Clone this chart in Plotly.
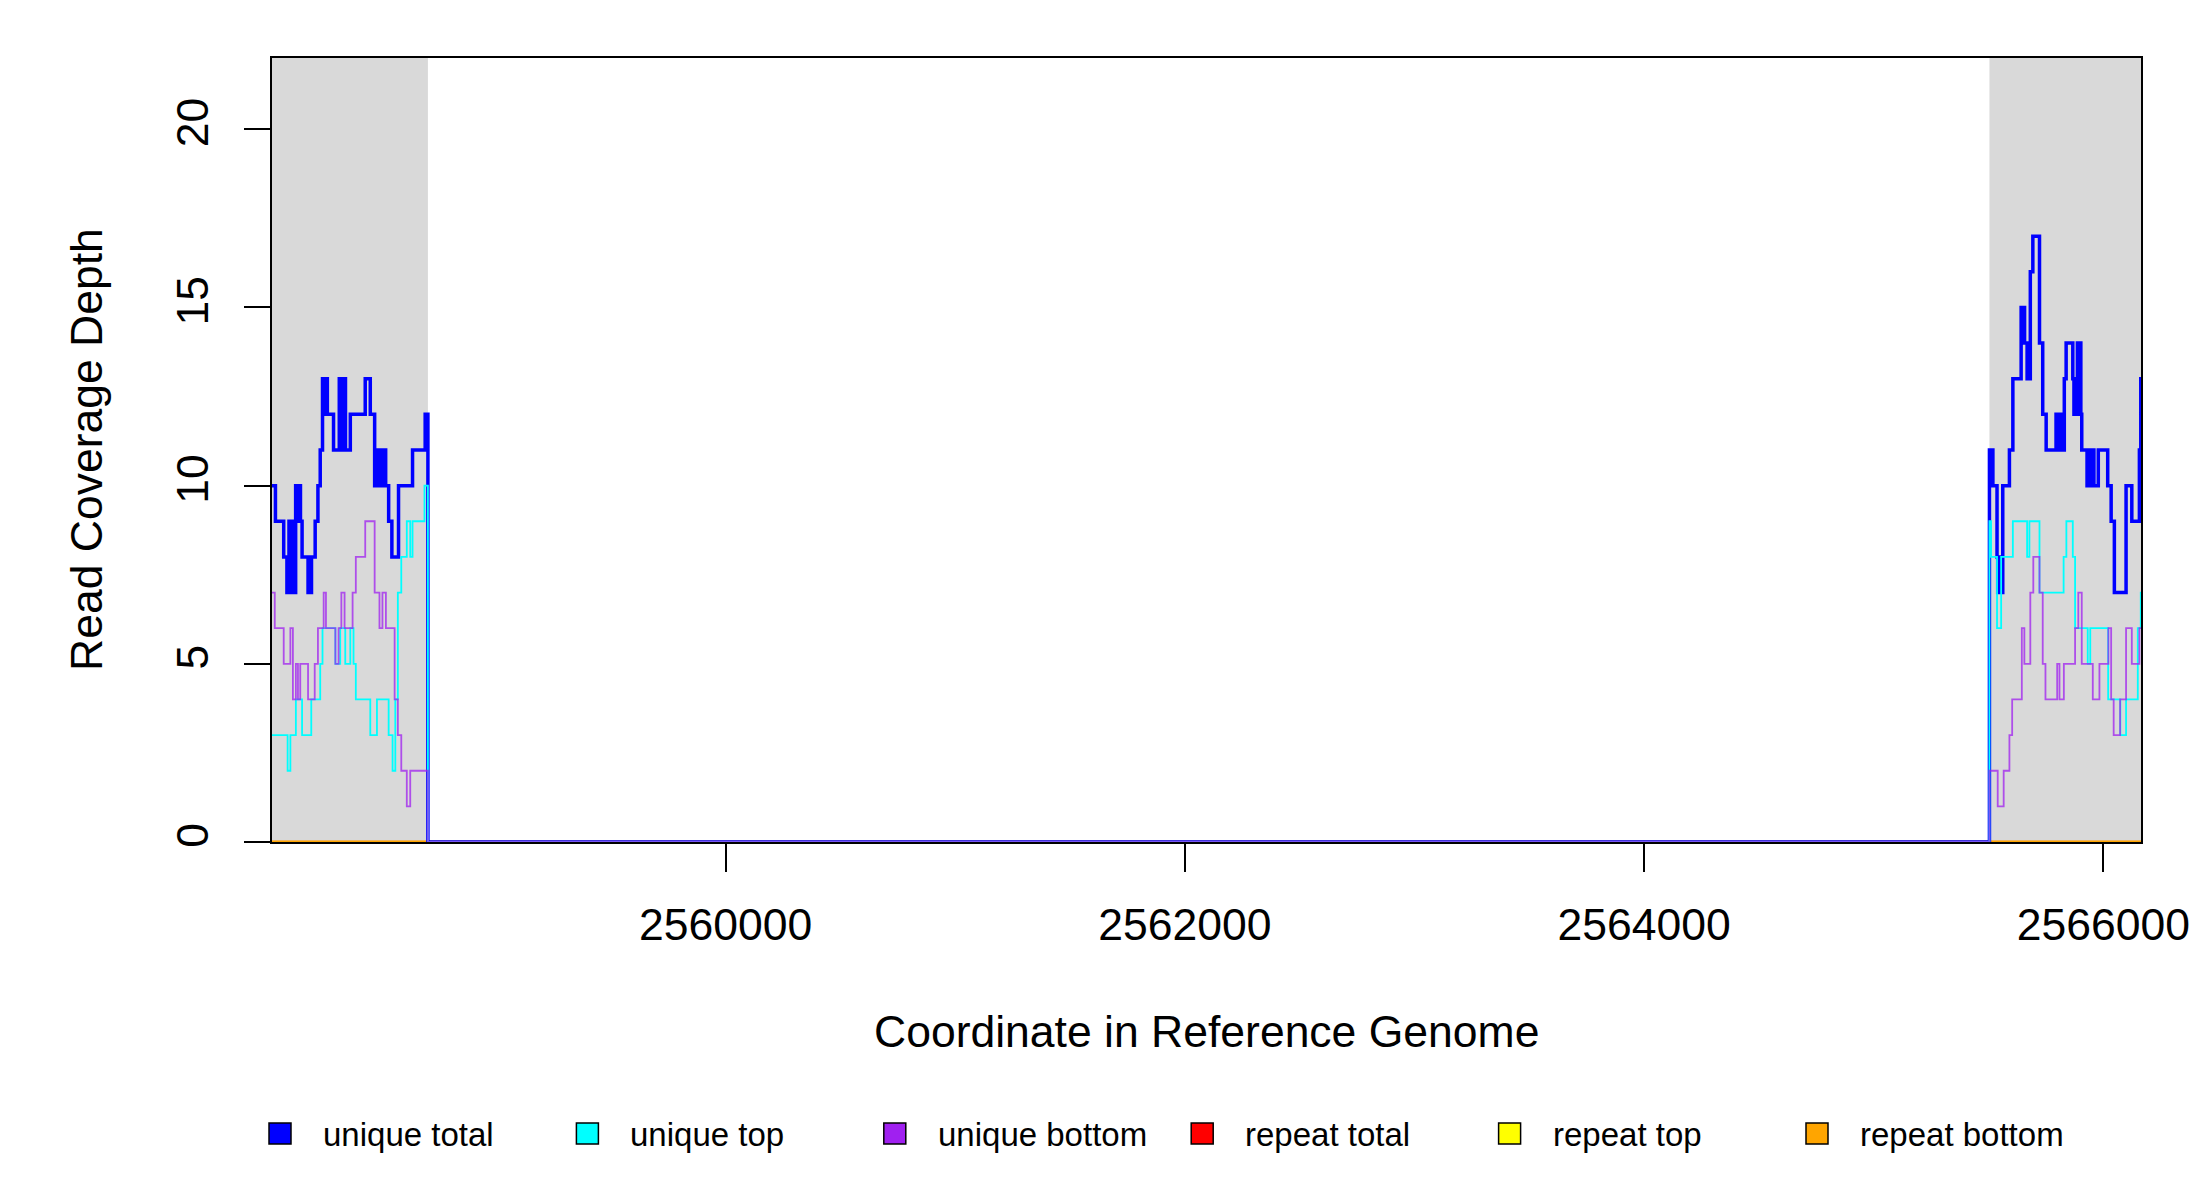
import plotly.graph_objects as go

# ---- region shown (bp) and the shaded flanks
x_start = 2558025
x_end = 2566164
flank_left_end = 2558704
flank_right_start = 2565504

x_ticks = [2560000, 2562000, 2564000, 2566000]
y_ticks = [0, 5, 10, 15, 20]
y_max = 22

# ---- unique total (step changes: position, depth)
total_left_x = [2558025, 2558040, 2558076, 2558090, 2558093, 2558096, 2558099, 2558102, 2558105, 2558108,
                2558111, 2558114, 2558117, 2558120, 2558123, 2558126, 2558128, 2558131, 2558134, 2558137,
                2558140, 2558143, 2558146, 2558149, 2558156, 2558182, 2558185, 2558188, 2558191, 2558194,
                2558197, 2558213, 2558225, 2558235, 2558245, 2558248, 2558251, 2558254, 2558257, 2558260,
                2558263, 2558266, 2558293, 2558318, 2558321, 2558324, 2558327, 2558330, 2558333, 2558336,
                2558339, 2558342, 2558345, 2558366, 2558431, 2558453, 2558472, 2558476, 2558480, 2558484,
                2558488, 2558492, 2558496, 2558500, 2558504, 2558508, 2558512, 2558516, 2558520, 2558533,
                2558547, 2558576, 2558637, 2558692]
total_left_y = [10, 9, 8, 7, 8, 7, 9, 7, 9, 7,
                9, 7, 9, 7, 9, 7, 10, 9, 10, 9,
                10, 9, 10, 9, 8, 7, 8, 7, 8, 7,
                8, 9, 10, 11, 13, 12, 13, 12, 13, 12,
                13, 12, 11, 13, 11, 13, 11, 13, 11, 13,
                11, 13, 11, 12, 13, 12, 10, 11, 10, 11,
                10, 11, 10, 11, 10, 11, 10, 11, 10, 9,
                8, 10, 11, 12]
total_right_x = [2565504, 2565507, 2565510, 2565513, 2565516, 2565519, 2565537, 2565540, 2565543, 2565546,
                 2565549, 2565552, 2565555, 2565558, 2565562, 2565591, 2565606, 2565642, 2565645, 2565648,
                 2565651, 2565654, 2565657, 2565668, 2565671, 2565674, 2565677, 2565680, 2565682, 2565693,
                 2565722, 2565736, 2565751, 2565794, 2565797, 2565800, 2565803, 2565806, 2565809, 2565812,
                 2565815, 2565818, 2565821, 2565824, 2565827, 2565830, 2565838, 2565867, 2565872, 2565875,
                 2565878, 2565881, 2565884, 2565887, 2565890, 2565893, 2565896, 2565899, 2565902, 2565906,
                 2565929, 2565932, 2565935, 2565938, 2565941, 2565944, 2565947, 2565950, 2565953, 2565956,
                 2565959, 2565978, 2566019, 2566034, 2566048, 2566099, 2566124, 2566157, 2566163]
total_right_y = [11, 10, 11, 10, 11, 10, 8, 7, 8, 7,
                 8, 7, 8, 7, 10, 11, 13, 15, 14, 15,
                 14, 15, 14, 13, 14, 13, 14, 13, 16, 17,
                 14, 12, 11, 12, 11, 12, 11, 12, 11, 12,
                 11, 12, 11, 12, 11, 13, 14, 13, 12, 13,
                 12, 13, 12, 14, 12, 14, 12, 14, 12, 11,
                 10, 11, 10, 11, 10, 11, 10, 11, 10, 11,
                 10, 11, 10, 9, 7, 10, 9, 11, 13]

# ---- unique top
top_left_x = [2558025, 2558093, 2558105, 2558129, 2558156, 2558196, 2558235, 2558245, 2558301, 2558322,
              2558344, 2558366, 2558380, 2558390, 2558453, 2558482, 2558533, 2558550, 2558562, 2558573,
              2558588, 2558612, 2558627, 2558637, 2558689]
top_left_y = [3, 2, 3, 4, 3, 4, 5, 6, 5, 6,
              5, 6, 5, 4, 3, 4, 3, 2, 4, 7,
              8, 9, 8, 9, 10]
top_right_x = [2565504, 2565511, 2565537, 2565555, 2565606, 2565668, 2565678, 2565722, 2565827, 2565839,
               2565867, 2565877, 2565932, 2565943, 2566021, 2566074, 2566099, 2566150, 2566163]
top_right_y = [9, 8, 6, 8, 9, 8, 9, 7, 8, 9,
               8, 6, 5, 6, 4, 3, 4, 6, 7]

# ---- unique bottom
bottom_left_x = [2558025, 2558037, 2558076, 2558105, 2558116, 2558129, 2558138, 2558148, 2558182, 2558211,
                 2558225, 2558250, 2558260, 2558301, 2558315, 2558327, 2558341, 2558376, 2558390, 2558431,
                 2558472, 2558493, 2558506, 2558521, 2558559, 2558573, 2558588, 2558612, 2558627]
bottom_left_y = [7, 6, 5, 6, 4, 5, 4, 5, 4, 5,
                 6, 7, 6, 5, 6, 7, 6, 7, 8, 9,
                 7, 6, 7, 6, 4, 3, 2, 1, 2]
bottom_right_x = [2565504, 2565540, 2565566, 2565591, 2565603, 2565645, 2565656, 2565682, 2565695, 2565722,
                  2565736, 2565748, 2565799, 2565809, 2565828, 2565877, 2565891, 2565906, 2565954, 2565983,
                  2566022, 2566034, 2566045, 2566073, 2566099, 2566124, 2566157]
bottom_right_y = [2, 1, 2, 3, 4, 6, 5, 7, 8, 7,
                  5, 4, 5, 4, 5, 6, 7, 5, 4, 5,
                  6, 4, 3, 4, 6, 5, 6]

# ---- repeat series (zero across the region)
repeat_x = [x_start, x_end]
repeat_total_y = [0, 0]
repeat_top_y = [0, 0]
repeat_bottom_y = [0, 0]

names = ["unique total", "unique top", "unique bottom", "repeat total", "repeat top", "repeat bottom"]
colors = ["#0000FF", "#00FFFF", "#A020F0", "#FF0000", "#FFFF00", "#FFA500"]


def join_flanks(left_x, left_y, right_x, right_y):
    # zero between the flanks, last value carried to the right edge
    xs = left_x + [flank_left_end] + right_x + [x_end]
    ys = left_y + [0] + right_y + [right_y[-1]]
    return xs, ys


fig = go.Figure()

# repeats first, unique series on top
fig.add_trace(go.Scatter(x=repeat_x, y=repeat_total_y, mode="lines", line=dict(color=colors[3], width=2.5),
                         name=names[3]))
fig.add_trace(go.Scatter(x=repeat_x, y=repeat_top_y, mode="lines", line=dict(color=colors[4], width=2.5),
                         name=names[4]))
fig.add_trace(go.Scatter(x=repeat_x, y=repeat_bottom_y, mode="lines", line=dict(color=colors[5], width=2.5),
                         name=names[5]))

tx, ty = join_flanks(total_left_x, total_left_y, total_right_x, total_right_y)
fig.add_trace(go.Scatter(x=tx, y=ty, mode="lines", line=dict(color=colors[0], width=3.5, shape="hv"),
                         name=names[0]))
cx, cy = join_flanks(top_left_x, top_left_y, top_right_x, top_right_y)
fig.add_trace(go.Scatter(x=cx, y=cy, mode="lines", line=dict(color=colors[1], width=1.8, shape="hv"),
                         name=names[1]))
bx, by = join_flanks(bottom_left_x, bottom_left_y, bottom_right_x, bottom_right_y)
fig.add_trace(go.Scatter(x=bx, y=by, mode="lines", line=dict(color=colors[2], width=1.8, shape="hv"),
                         opacity=0.75, name=names[2]))

# the page adds an 8px body margin, so the plot box is shifted back by that much
OFF = 8
W, H = 2200, 1200
# plot box in page pixels
L, R, T, B = 272, 2141, 58, 842


def px_x(p):
    return (p - L) / (R - L)


def px_y(p):
    return (B - p) / (B - T)


shapes = [
    dict(type="rect", xref="x", yref="y", x0=x_start, x1=flank_left_end, y0=0, y1=y_max,
         fillcolor="#D9D9D9", line=dict(width=0), layer="below"),
    dict(type="rect", xref="x", yref="y", x0=flank_right_start, x1=x_end, y0=0, y1=y_max,
         fillcolor="#D9D9D9", line=dict(width=0), layer="below"),
]

annotations = [
    dict(text="Coordinate in Reference Genome", xref="paper", yref="paper", x=0.5, y=px_y(1031),
         xanchor="center", yanchor="middle", showarrow=False, font=dict(size=44.5)),
    dict(text="Read Coverage Depth", xref="paper", yref="paper", x=px_x(86), y=0.5, textangle=-90,
         xanchor="center", yanchor="middle", showarrow=False, font=dict(size=44.5)),
]

# legend drawn as filled boxes like the original
step = 307.4
for i, (nm, col) in enumerate(zip(names, colors)):
    x0 = 269 + i * step
    shapes.append(dict(type="rect", xref="paper", yref="paper",
                       x0=px_x(x0), x1=px_x(x0 + 22), y0=px_y(1144), y1=px_y(1123),
                       fillcolor=col, line=dict(color="black", width=1.5)))
    annotations.append(dict(text=nm, xref="paper", yref="paper", x=px_x(x0 + 52), y=px_y(1134),
                            xanchor="left", yanchor="middle", showarrow=False, font=dict(size=33)))

fig.update_layout(
    width=W, height=H, autosize=False,
    margin=dict(l=L - OFF, r=W - (R - OFF), t=T - OFF, b=H - (B - OFF), pad=0),
    paper_bgcolor="white", plot_bgcolor="white",
    font=dict(family="Liberation Sans, Arial, sans-serif", color="black"),
    showlegend=False,
    shapes=shapes,
    annotations=annotations,
    xaxis=dict(range=[x_start, x_end], tickvals=x_ticks, ticktext=[str(v) for v in x_ticks],
               ticks="outside", ticklen=28, tickwidth=2, tickcolor="black",
               tickfont=dict(size=44.5), ticklabelstandoff=15,
               showline=True, linecolor="black", linewidth=2, mirror=True,
               showgrid=False, zeroline=False, layer="below traces"),
    yaxis=dict(range=[0, y_max], tickvals=y_ticks, ticks="outside", ticklen=26, tickwidth=2,
               tickcolor="black", tickfont=dict(size=44.5), tickangle=-90, ticklabelstandoff=18,
               showline=True, linecolor="black", linewidth=2, mirror=True,
               showgrid=False, zeroline=False, layer="below traces"),
)

fig.write_html("out.html")
